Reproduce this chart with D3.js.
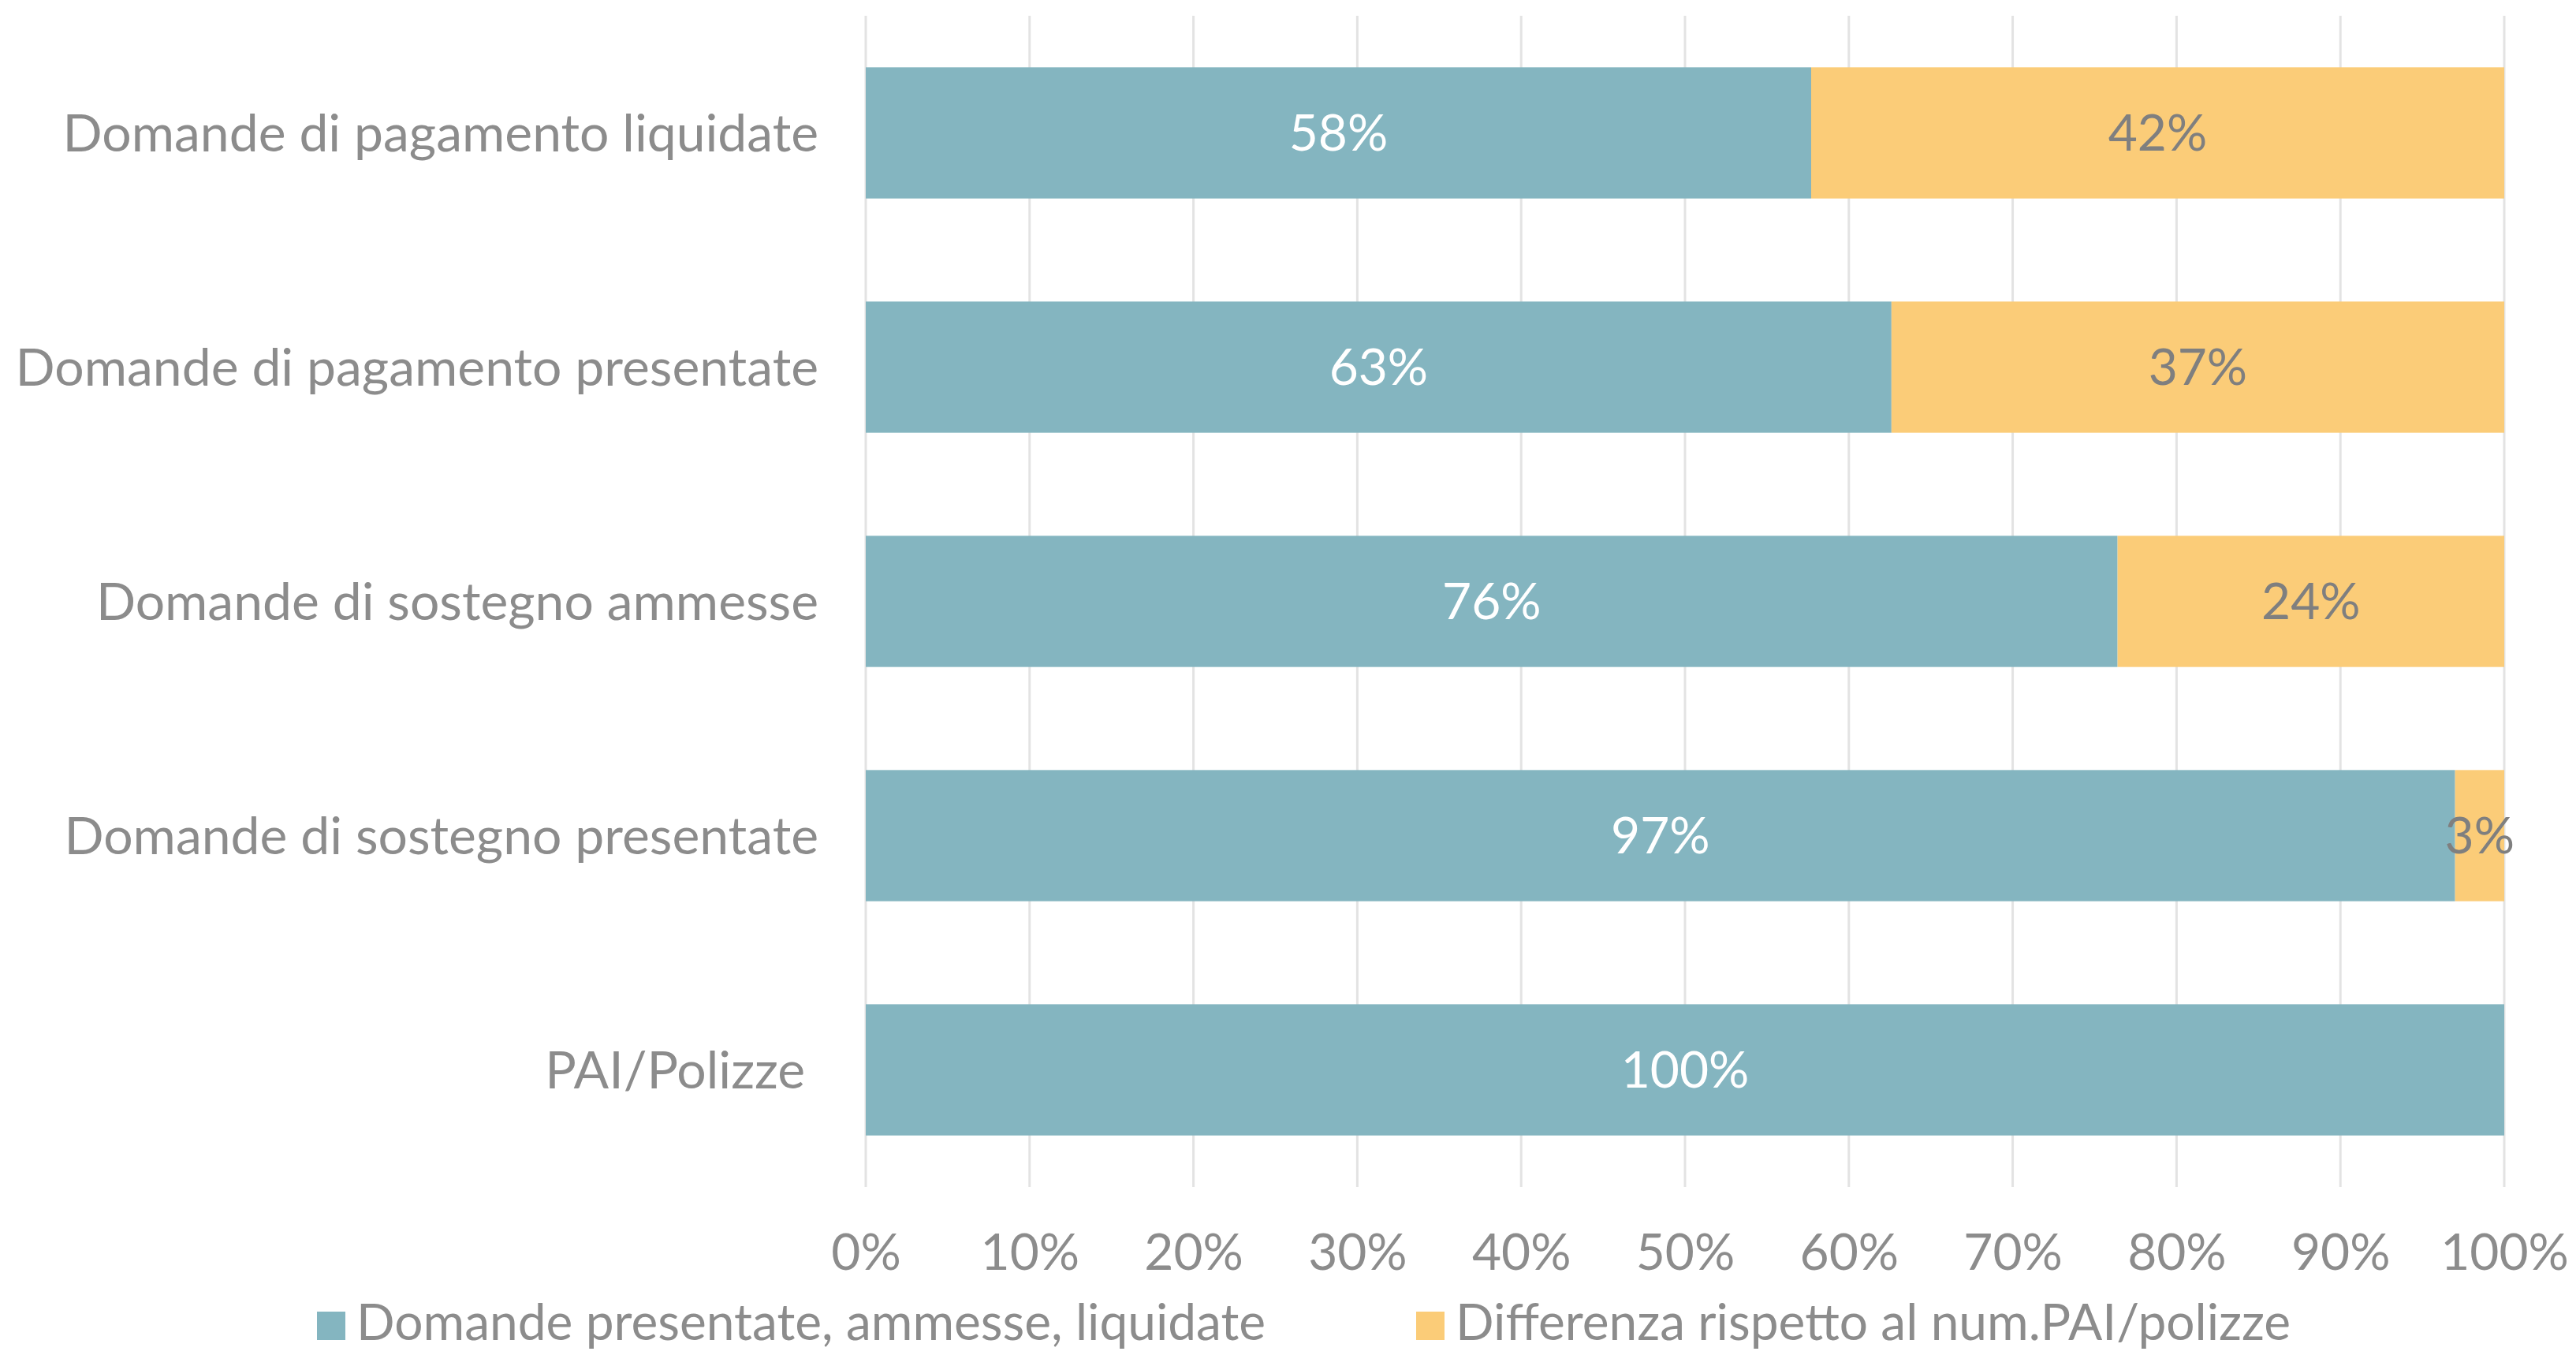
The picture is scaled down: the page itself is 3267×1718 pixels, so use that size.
<!DOCTYPE html>
<html>
<head>
<meta charset="utf-8">
<style>
  body { margin: 0; background: #fff; }
  svg text { font-family: Lato, "Open Sans", sans-serif; }
</style>
</head>
<body>
<script src="https://d3js.org/d3.v7.min.js"></script>
<script>
// --- data ---
var categories = [
  "Domande di pagamento liquidate",
  "Domande di pagamento presentate",
  "Domande di sostegno ammesse",
  "Domande di sostegno presentate",
  "PAI/Polizze "
];
var presentate = [57.7, 62.6, 76.4, 97.0, 100];
var differenza = [42.3, 37.4, 23.6, 3.0, 0];
var seriesNames = ["Domande presentate, ammesse, liquidate", "Differenza rispetto al num.PAI/polizze"];
var ticks = [0, 10, 20, 30, 40, 50, 60, 70, 80, 90, 100];

var W = 3267, H = 1718;
var margin = {top: 20, left: 1098, right: 91, bottom: 213};
var width = W - margin.left - margin.right,
    height = H - margin.top - margin.bottom;

var colors = ["#84b5c0", "#fbcc78"];
var labelColors = ["#ffffff", "#7f7f7f"];

var svg = d3.select("body").append("svg")
  .attr("width", W).attr("height", H);

var x = d3.scaleLinear().domain([0, 100]).range([0, width]);
var y = d3.scaleBand().domain(categories).range([0, height]).paddingInner(0.44).paddingOuter(0.22);

var g = svg.append("g").attr("transform", "translate(" + margin.left + "," + margin.top + ")");

// gridlines
g.selectAll(".grid").data(ticks).enter().append("line")
  .attr("x1", d => x(d)).attr("x2", d => x(d))
  .attr("y1", 0).attr("y2", height)
  .attr("stroke", "#e3e3e3").attr("stroke-width", 3);

// x axis
var xAxis = d3.axisBottom(x).tickValues(ticks).tickFormat(d => d + "%").tickSize(0).tickPadding(60);
var ax = g.append("g").attr("transform", "translate(0," + height + ")").call(xAxis);
ax.select(".domain").remove();
ax.selectAll("text").attr("fill", "#8c8c8c").style("font-size", "64px");

// y labels
g.selectAll(".cat").data(categories).enter().append("text")
  .attr("x", -60)
  .attr("y", d => y(d) + y.bandwidth() / 2)
  .attr("dy", "0.35em")
  .attr("text-anchor", "end")
  .attr("fill", "#8c8c8c")
  .style("font-size", "66px")
  .style("white-space", "pre")
  .text(d => d);

// stacked bars
var rows = categories.map((c, i) => ({cat: c, vals: [presentate[i], differenza[i]]}));
rows.forEach(function (r) {
  var x0 = 0;
  r.vals.forEach(function (v, k) {
    if (v > 0) {
      g.append("rect")
        .attr("x", x(x0)).attr("y", y(r.cat))
        .attr("width", x(x0 + v) - x(x0)).attr("height", y.bandwidth())
        .attr("fill", colors[k]);
      g.append("text")
        .attr("x", x(x0 + v / 2)).attr("y", y(r.cat) + y.bandwidth() / 2)
        .attr("dy", "0.35em").attr("text-anchor", "middle")
        .attr("fill", labelColors[k])
        .style("font-size", "64px")
        .text(Math.round(v) + "%");
    }
    x0 += v;
  });
});

// legend
var legendX = [402, 1796];
var leg = svg.append("g").attr("transform", "translate(0,1677)");
seriesNames.forEach(function (n, k) {
  leg.append("rect").attr("x", legendX[k]).attr("y", -14).attr("width", 36).attr("height", 36).attr("fill", colors[k]);
  leg.append("text").attr("x", legendX[k] + 50).attr("y", 0).attr("dy", "0.35em")
    .attr("fill", "#8c8c8c").style("font-size", "64px").text(n);
});
</script>
</body>
</html>
